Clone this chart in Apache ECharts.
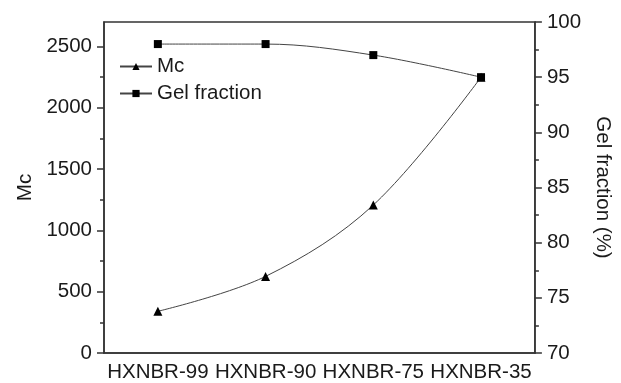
<!DOCTYPE html>
<html>
<head>
<meta charset="utf-8">
<script src="https://cdn.jsdelivr.net/npm/echarts@6/dist/echarts.min.js"></script>
<style>
  html, body { margin: 0; padding: 0; background: #fff; }
  #chart { width: 621px; height: 383px; }
</style>
</head>
<body>
<div id="chart"></div>
<script>
// Samples along the x axis
const categories = ['HXNBR-99', 'HXNBR-90', 'HXNBR-75', 'HXNBR-35'];
// Molecular weight between crosslinks (left axis)
const mcValues = [340, 625, 1207, 2250];
// Gel fraction in percent (right axis)
const gelValues = [98.0, 98.0, 97.0, 95.0];
// Labelled ticks on the left axis
const mcTicks = [0, 500, 1000, 1500, 2000, 2500];

const FONT = 'Liberation Sans, Arial, sans-serif';
const AXIS_COLOR = '#333';
const textStyle = { fontFamily: FONT, fontSize: 20.5, color: '#1a1a1a' };

const chart = echarts.init(document.getElementById('chart'), null, { renderer: 'canvas' });

chart.setOption({
  animation: false,
  backgroundColor: '#fff',
  grid: {
    left: 104, right: 68, top: 22, bottom: 29,
    show: true, borderColor: AXIS_COLOR, borderWidth: 1.5, backgroundColor: 'transparent'
  },
  legend: {
    orient: 'vertical',
    left: 114, top: 51,
    itemWidth: 32, itemHeight: 9, itemGap: 6,
    textStyle: { fontFamily: FONT, fontSize: 20.5, color: '#1a1a1a', padding: [0, 0, 0, 0] },
    data: ['Mc', 'Gel fraction']
  },
  xAxis: [
    {
      type: 'category',
      data: categories,
      boundaryGap: true,
      axisLine: { lineStyle: { color: AXIS_COLOR, width: 1.5 } },
      axisTick: { alignWithLabel: true, length: 7, lineStyle: { color: AXIS_COLOR, width: 1.5 } },
      axisLabel: Object.assign({ margin: 9, interval: 0 }, textStyle),
      splitLine: { show: false }
    },
    {
      // short ticks on the category boundaries
      type: 'category',
      data: categories,
      position: 'bottom',
      boundaryGap: true,
      axisLine: { show: false },
      axisTick: { length: 4, lineStyle: { color: AXIS_COLOR, width: 1.5 } },
      axisLabel: { show: false },
      splitLine: { show: false }
    }
  ],
  yAxis: [
    {
      type: 'value',
      min: 0, max: 2700, interval: 500,
      name: 'Mc',
      nameLocation: 'middle',
      nameGap: 64,
      nameTextStyle: textStyle,
      axisLine: { show: true, lineStyle: { color: AXIS_COLOR, width: 1.5 } },
      axisTick: { show: true, length: 7, customValues: mcTicks, lineStyle: { color: AXIS_COLOR, width: 1.5 } },
      minorTick: { show: true, splitNumber: 2, length: 4, lineStyle: { color: AXIS_COLOR, width: 1.5 } },
      axisLabel: Object.assign({
        margin: 12,
        customValues: mcTicks,
        formatter: v => String(v)
      }, textStyle),
      splitLine: { show: false }
    },
    {
      type: 'value',
      min: 70, max: 100, interval: 5,
      position: 'right',
      name: 'Gel fraction (%)',
      nameLocation: 'middle',
      nameRotate: -90,
      nameGap: 54,
      nameTextStyle: textStyle,
      axisLine: { show: true, lineStyle: { color: AXIS_COLOR, width: 1.5 } },
      axisTick: { show: true, length: 7, lineStyle: { color: AXIS_COLOR, width: 1.5 } },
      minorTick: { show: true, splitNumber: 2, length: 4, lineStyle: { color: AXIS_COLOR, width: 1.5 } },
      axisLabel: Object.assign({ margin: 12 }, textStyle),
      splitLine: { show: false }
    }
  ],
  series: [
    {
      name: 'Mc',
      type: 'line',
      xAxisIndex: 0, yAxisIndex: 0,
      data: mcValues,
      smooth: 0.35,
      symbol: 'triangle',
      symbolSize: 9,
      showAllSymbol: true,
      itemStyle: { color: '#000' },
      lineStyle: { color: '#444', width: 1 }
    },
    {
      name: 'Gel fraction',
      type: 'line',
      xAxisIndex: 0, yAxisIndex: 1,
      data: gelValues,
      smooth: 0.35,
      symbol: 'rect',
      symbolSize: 8,
      showAllSymbol: true,
      itemStyle: { color: '#000' },
      lineStyle: { color: '#444', width: 1 }
    }
  ]
});
</script>
</body>
</html>
